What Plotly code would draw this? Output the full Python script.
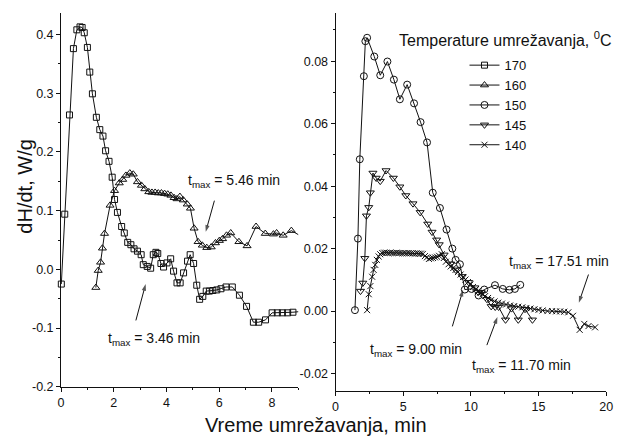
import plotly.graph_objects as go

# ---- data (left panel: 170, 160 C; right panel: 150, 145, 140 C) ----
x170 = [0.01,0.14,0.32,0.47,0.60,0.72,0.80,0.88,1.00,1.09,
        1.19,1.34,1.47,1.59,1.69,1.82,1.94,2.03,2.14,2.30,
        2.40,2.53,2.65,2.77,2.90,3.04,3.12,3.27,3.40,3.50,
        3.60,3.67,3.79,3.89,4.02,4.16,4.27,4.40,4.52,4.65,
        4.80,4.90,5.03,5.15,5.26,5.38,5.51,5.63,5.76,5.91,
        6.07,6.26,6.50,6.77,7.04,7.30,7.50,7.76,8.01,8.21,
        8.40,8.60,8.80,9.04]
y170 = [-0.025,0.094,0.263,0.376,0.408,0.413,0.412,0.403,0.378,0.336,
        0.299,0.259,0.238,0.227,0.202,0.184,0.157,0.119,0.097,0.073,
        0.062,0.046,0.042,0.035,0.031,0.025,0.008,0.005,0.002,0.025,
        0.029,0.027,0.010,0.004,0.011,0.018,-0.003,-0.023,-0.023,-0.006,
        0.014,0.025,0.010,-0.027,-0.051,-0.046,-0.037,-0.037,-0.036,-0.035,
        -0.033,-0.030,-0.030,-0.044,-0.063,-0.090,-0.090,-0.086,-0.074,-0.074,
        -0.074,-0.074,-0.073,-0.072]

x160 = [1.32,1.41,1.50,1.57,1.65,1.86,2.03,2.21,2.34,2.46,
        2.61,2.74,2.90,3.05,3.18,3.33,3.45,3.57,3.69,3.81,
        3.93,4.05,4.17,4.29,4.40,4.51,4.64,4.79,4.91,5.05,
        5.20,5.36,5.53,5.70,5.86,6.01,6.13,6.28,6.44,6.75,
        7.06,7.40,7.75,8.06,8.18,8.43,8.74,9.05,9.37]
y160 = [-0.031,-0.002,0.012,0.036,0.061,0.109,0.134,0.147,0.153,0.160,
        0.164,0.162,0.149,0.143,0.137,0.132,0.131,0.131,0.130,0.130,
        0.129,0.128,0.126,0.122,0.120,0.124,0.118,0.111,0.104,0.070,
        0.047,0.041,0.037,0.038,0.045,0.049,0.052,0.058,0.062,0.047,
        0.040,0.073,0.061,0.060,0.062,0.058,0.066,0.058,0.044]

x150 = [1.43,1.65,1.79,2.09,2.20,2.33,2.86,3.30,3.83,4.31,
        4.75,5.29,5.80,6.28,6.76,7.18,7.71,8.20,8.63,8.87,
        9.19,9.55,10.04,10.57,10.99,11.78,12.35,12.85,13.25,13.65]
y150 = [0.0003,0.0232,0.0486,0.0752,0.0864,0.0875,0.0815,0.0755,0.0799,0.0741,
        0.0678,0.0725,0.0665,0.0605,0.0540,0.0379,0.0330,0.0261,0.0200,0.0164,
        0.0150,0.0069,0.0071,0.0050,0.0069,0.0083,0.0071,0.0068,0.0071,0.0084]

x145 = [1.84,2.01,2.16,2.28,2.45,2.57,2.76,3.00,3.30,3.73,
        4.27,4.75,5.19,5.72,6.25,6.81,7.13,7.47,7.66,8.02,
        8.51,8.87,9.36,9.84,10.30,10.75,11.18,11.50,11.80,12.05,
        12.56,13.00,13.50,14.00,14.55]
y145 = [0.0064,0.0090,0.0169,0.0305,0.0332,0.0379,0.0442,0.0426,0.0416,0.0450,
        0.0426,0.0398,0.0370,0.0344,0.0316,0.0279,0.0253,0.0228,0.0213,0.0180,
        0.0151,0.0132,0.0111,0.0092,0.0075,0.0060,0.0038,0.0015,0.0013,0.0013,
        -0.0028,0.0008,-0.0028,0.0006,-0.0028]

x140 = [2.33,2.45,2.57,2.70,2.81,2.93,3.05,3.18,3.30,3.45,
        3.60,3.75,3.90,4.05,4.20,4.35,4.50,4.65,4.80,4.95,
        5.10,5.25,5.40,5.55,5.70,5.85,6.00,6.15,6.30,6.45,
        6.60,6.75,6.90,7.05,7.20,7.35,7.50,7.65,7.85,8.00,
        8.15,8.35,8.51,8.70,8.87,9.05,9.24,9.42,9.60,9.78,
        9.96,10.15,10.33,10.51,10.69,10.87,11.05,11.27,11.49,11.75,
        12.02,12.30,12.60,12.90,13.20,13.50,13.80,14.10,14.40,14.70,
        15.00,15.30,15.66,16.00,16.30,16.60,16.90,17.20,17.55,18.04,
        18.38,18.69,19.18]
y140 = [0.0003,0.0054,0.0080,0.0110,0.0132,0.0148,0.0164,0.0175,0.0182,0.0186,
        0.0187,0.0187,0.0186,0.0187,0.0186,0.0186,0.0187,0.0186,0.0186,0.0185,
        0.0186,0.0185,0.0186,0.0185,0.0185,0.0184,0.0185,0.0184,0.0184,0.0183,
        0.0176,0.0172,0.0167,0.0169,0.0170,0.0172,0.0174,0.0177,0.0182,0.0170,
        0.0158,0.0150,0.0143,0.0138,0.0132,0.0125,0.0117,0.0109,0.0101,0.0093,
        0.0085,0.0077,0.0069,0.0064,0.0059,0.0054,0.0048,0.0042,0.0035,0.0031,
        0.0027,0.0024,0.0021,0.0018,0.0016,0.0014,0.0012,0.0010,0.0008,0.0006,
        0.0004,0.0002,0.0000,0.0000,-0.0001,-0.0001,-0.0002,-0.0004,-0.0015,-0.0060,
        -0.0041,-0.0048,-0.0052]

left_xticks = [0, 2, 4, 6, 8]
left_yticks = [-0.2, -0.1, 0.0, 0.1, 0.2, 0.3, 0.4]
left_yticktext = ["-0.2", "-0.1", "0.0", "0.1", "0.2", "0.3", "0.4"]
right_xticks = [0, 5, 10, 15, 20]
right_yticks = [-0.02, 0.0, 0.02, 0.04, 0.06, 0.08]
right_yticktext = ["-0.02", "0.00", "0.02", "0.04", "0.06", "0.08"]

# t_max labels: (panel, x, y, text)
tmax_labels = [
    (1, 6.57, 0.150, "t<sub>max</sub> = 5.46 min"),
    (1, 3.51, -0.118, "t<sub>max</sub> = 3.46 min"),
    (2, 5.96, -0.0125, "t<sub>max</sub> = 9.00 min"),
    (2, 13.75, -0.0177, "t<sub>max</sub> = 11.70 min"),
    (2, 16.5, 0.0158, "t<sub>max</sub> = 17.51 min"),
]
# pointer arrows: (panel, tail x, tail y, head x, head y)
tmax_arrows = [
    (1, 5.82, 0.117, 5.49, 0.064),
    (1, 2.84, -0.087, 3.21, -0.025),
    (2, 8.63, -0.0049, 9.42, 0.0068),
    (2, 11.18, -0.0109, 11.96, -0.0019),
    (2, 18.69, 0.0117, 17.98, 0.0027),
]

FONT = "Liberation Sans, Arial, sans-serif"
BLACK = "#111111"

fig = go.Figure()

def add(x, y, name, symbol, xa, ya, size=6):
    fig.add_trace(go.Scatter(
        x=x, y=y, name=name, mode="lines+markers", xaxis=xa, yaxis=ya,
        cliponaxis=False,
        line=dict(color=BLACK, width=1),
        marker=dict(symbol=symbol, size=size, color=BLACK,
                    line=dict(color=BLACK, width=1)),
    ))

add(x170, y170, "170", "square-open", "x", "y", 6)
add(x160, y160, "160", "triangle-up-open", "x", "y", 7)
add(x150, y150, "150", "circle-open", "x2", "y2", 7)
add(x145, y145, "145", "triangle-down-open", "x2", "y2", 7)
add(x140, y140, "140", "x-thin-open", "x2", "y2", 6)

for p, tx, ty, hx, hy in tmax_arrows:
    fig.add_trace(go.Scatter(
        x=[tx, hx], y=[ty, hy], mode="lines+markers", showlegend=False,
        xaxis="x" if p == 1 else "x2", yaxis="y" if p == 1 else "y2",
        cliponaxis=False, hoverinfo="skip",
        line=dict(color=BLACK, width=1),
        marker=dict(symbol=["circle", "arrow"], size=[0, 7], angleref="previous",
                    color=BLACK, line=dict(width=0)),
    ))

axis_common = dict(showline=True, linecolor=BLACK, linewidth=1, ticks="outside",
                   ticklen=4, tickcolor=BLACK, showgrid=False, zeroline=False,
                   tickfont=dict(family=FONT, size=12.5, color=BLACK),
                   minor=dict(ticks="outside", ticklen=2, tickcolor=BLACK))

fig.update_layout(
    width=625, height=445,
    margin=dict(l=0, r=0, t=0, b=0),
    paper_bgcolor="white", plot_bgcolor="white",
    font=dict(family=FONT, color=BLACK),
    xaxis=dict(domain=[0.0944, 0.48], range=[0, 9.0], tickvals=left_xticks,
               anchor="y", **axis_common),
    yaxis=dict(domain=[0.1169, 0.9708], range=[-0.2, 0.437], tickvals=left_yticks,
               ticktext=left_yticktext, anchor="x", **axis_common),
    xaxis2=dict(domain=[0.5408, 0.9808], range=[0, 20], tickvals=right_xticks,
                anchor="y2", **axis_common),
    yaxis2=dict(domain=[0.1079, 0.9708], range=[-0.0255, 0.0955], tickvals=right_yticks,
                ticktext=right_yticktext, anchor="x2", **axis_common),
    showlegend=True,
    legend=dict(x=469/625, y=1-51/445, xanchor="left", yanchor="top",
                bgcolor="rgba(0,0,0,0)", font=dict(family=FONT, size=13, color=BLACK),
                itemwidth=30, tracegroupgap=0),
)

fig.update_layout(yaxis_minor=dict(dtick=0.05), xaxis_minor=dict(dtick=1),
                  yaxis2_minor=dict(dtick=0.01), xaxis2_minor=dict(dtick=2.5))

ann = []
ann.append(dict(text="Vreme umrežavanja, min", xref="paper", yref="paper",
                x=318/625, y=1-432/445, xanchor="center", yanchor="middle",
                showarrow=False, font=dict(family=FONT, size=20, color=BLACK)))
ann.append(dict(text="dH/dt, W/g", xref="paper", yref="paper",
                x=22/625, y=1-190/445, xanchor="center", yanchor="middle",
                textangle=-90, showarrow=False, font=dict(family=FONT, size=20, color=BLACK)))
ann.append(dict(text="Temperature umrežavanja, <sup>0</sup>C", xref="paper", yref="paper",
                x=400/625, y=1-40/445, xanchor="left", yanchor="middle",
                showarrow=False, font=dict(family=FONT, size=16, color=BLACK)))

for p, xx, yy, t in tmax_labels:
    ann.append(dict(text=t, xref="x" if p == 1 else "x2", yref="y" if p == 1 else "y2",
                    x=xx, y=yy, xanchor="center", yanchor="middle", showarrow=False,
                    font=dict(family=FONT, size=14, color=BLACK)))

fig.update_layout(annotations=ann)
fig.write_html("out.html")
